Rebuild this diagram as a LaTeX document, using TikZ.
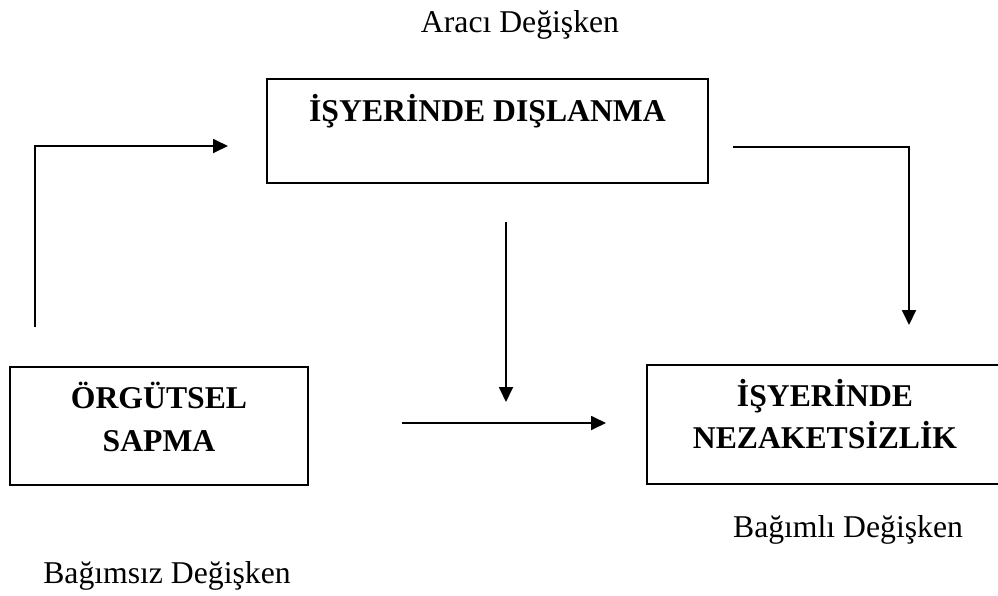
\documentclass[tikz,border=0pt]{standalone}
\usepackage{fontspec}
\setmainfont{Liberation Serif}
\usetikzlibrary{arrows.meta}

\tikzset{
  varbox/.style={draw, line width=1.8pt, inner xsep=0pt, inner ysep=0pt,
    anchor=base, align=center,
    font=\fontsize{31.7}{43}\selectfont\bfseries},
  caption/.style={inner sep=0pt, anchor=base, font=\fontsize{31.7}{38}\selectfont},
  link/.style={line width=1.8pt, -{Triangle[length=15pt,width=14pt]}}
}

\begin{document}
\begin{tikzpicture}[x=1pt, y=-1pt]
  \clip (0,0) rectangle (998,595);
  \fill[white] (0,0) rectangle (998,595);

  % variable boxes (anchored at the last text baseline)
  \node[varbox, minimum width=441pt, text height=42pt, text depth=62pt]
    (med) at (487.5,121) {İŞYERİNDE DIŞLANMA};
  \node[varbox, minimum width=298pt, text height=84pt, text depth=34pt]
    (ind) at (159,451) {ÖRGÜTSEL\\SAPMA};
  \node[varbox, minimum width=356pt, text height=83pt, text depth=36pt,
        font=\fontsize{31.7}{42}\selectfont\bfseries]
    (dep) at (825,448) {İŞYERİNDE\\NEZAKETSİZLİK};

  % role captions
  \node[caption] (medlab) at (520,32) {Aracı Değişken};
  \node[caption] (deplab) at (848,537) {Bağımlı Değişken};
  \node[caption] (indlab) at (167,583) {Bağımsız Değişken};

  % arrow end points
  \coordinate (a1s) at (35,327);
  \coordinate (a1e) at (228,146);
  \coordinate (a2s) at (733,147);
  \coordinate (a2e) at (909,325);
  \coordinate (a3s) at (506,222);
  \coordinate (a3e) at (506,402);
  \coordinate (a4s) at (402,423);
  \coordinate (a4e) at (606,423);

  \draw[link] (a1s) |- (a1e);
  \draw[link] (a2s) -| (a2e);
  \draw[link] (a3s) -- (a3e);
  \draw[link] (a4s) -- (a4e);
\end{tikzpicture}
\end{document}
